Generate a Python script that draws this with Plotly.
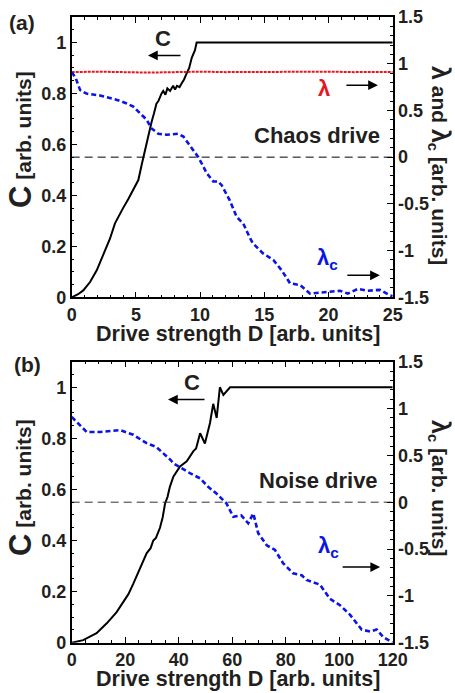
import plotly.graph_objects as go

# ---------------- data ----------------
# Panel (a): chaos drive
a_D_C = [0, 0.5, 0.9, 1.43, 1.95, 2.46, 2.98, 3.37, 3.76, 4.0, 4.4, 4.8, 5.19, 5.45, 5.58, 5.8, 5.97, 6.23,
         6.4, 6.6, 6.75, 6.88, 7.0, 7.13, 7.3, 7.45, 7.66, 7.9, 8.05, 8.2, 8.4, 8.57, 8.75, 8.96, 9.15, 9.35, 9.6, 9.73, 25]
a_C = [0, 0.012, 0.027, 0.06, 0.106, 0.17, 0.23, 0.29, 0.33, 0.35, 0.385, 0.42, 0.46, 0.52, 0.55, 0.6, 0.64, 0.69,
       0.72, 0.76, 0.77, 0.79, 0.80, 0.81, 0.795, 0.82, 0.81, 0.83, 0.815, 0.83, 0.825, 0.84, 0.855, 0.88, 0.9, 0.94, 0.97, 1.0, 1.0]

a_D_lam = [0, 2, 4, 6, 8, 10, 12, 14, 16, 18, 20, 22, 25]
a_lam = [0.91, 0.915, 0.91, 0.905, 0.91, 0.915, 0.91, 0.912, 0.915, 0.91, 0.915, 0.91, 0.912]

a_D_lc = [0, 0.3, 0.65, 1.15, 2.2, 3.0, 3.6, 4.28, 4.8, 5.32, 5.84, 6.2, 6.75, 7.4, 8.3, 8.7, 9.35, 9.86, 10.25, 10.5,
          11.03, 11.4, 11.68, 12.3, 12.85, 13.36, 13.9, 14.1, 14.9, 15.7, 16.35, 17.0, 17.8, 18.56, 19.3, 20.1, 20.9,
          21.5, 22.3, 23.0, 24.0, 24.8, 25]
a_lc = [0.91, 0.85, 0.72, 0.68, 0.66, 0.63, 0.61, 0.575, 0.54, 0.47, 0.40, 0.31, 0.25, 0.24, 0.25, 0.22, 0.09, 0.0, -0.10, -0.17,
        -0.26, -0.26, -0.30, -0.46, -0.64, -0.71, -0.87, -0.92, -1.03, -1.10, -1.21, -1.35, -1.37, -1.46, -1.45, -1.44, -1.43,
        -1.46, -1.41, -1.43, -1.42, -1.48, -1.49]

# Panel (b): noise drive
b_D_C = [0, 4.3, 9.3, 13.1, 16.8, 21.2, 23, 25.5, 28, 29.5, 30.5, 31.5, 33, 34.0, 34.9, 35.8, 36.7, 38, 40.5, 43, 43.6,
         45.5, 46.5, 48, 49.8, 51.7, 52.9, 54.2, 55.4, 56.7, 59.2, 120]
b_C = [0, 0.01, 0.037, 0.076, 0.12, 0.19, 0.23, 0.29, 0.35, 0.37, 0.40, 0.41, 0.45, 0.49, 0.545, 0.57, 0.61, 0.65, 0.69, 0.71, 0.72,
       0.75, 0.76, 0.82, 0.78, 0.86, 0.935, 0.88, 1.0, 0.97, 1.0, 1.0]

b_D_lc = [0, 5.6, 10.6, 18, 23, 28, 31.6, 35.5, 37, 38, 41, 44.2, 48, 51, 54, 57.8, 60.4, 63.4, 66, 67.9, 69.7, 72.9, 76,
          79, 82.8, 86, 87.8, 92.8, 96.5, 100.3, 104, 108.4, 111.5, 114, 116.5, 119.6, 120]
b_lc = [0.91, 0.75, 0.75, 0.77, 0.72, 0.63, 0.59, 0.49, 0.45, 0.415, 0.36, 0.31, 0.255, 0.165, 0.095, -0.01, -0.155, -0.14,
        -0.225, -0.12, -0.33, -0.46, -0.51, -0.65, -0.76, -0.78, -0.83, -0.88, -1.03, -1.10, -1.20, -1.36, -1.38, -1.36,
        -1.44, -1.5, -1.5]

c_ticks = [0, 0.2, 0.4, 0.6, 0.8, 1.0]
c_ticktext = ["0", "0.2", "0.4", "0.6", "0.8", "1"]
l_ticks = [-1.5, -1, -0.5, 0, 0.5, 1, 1.5]
l_ticktext = ["-1.5", "-1", "-0.5", "0", "0.5", "1", "1.5"]

# ---------------- figure ----------------
W, H = 455, 693
FONT = "Liberation Sans"
TXT = "#231f20"
BLUE = "#0a14e6"
RED = "#e8141e"

def px2x(px):
    return px / W

def px2y(py):
    return 1 - py / H

fig = go.Figure()

# panel (a)
fig.add_trace(go.Scatter(x=[0, 25], y=[0, 0], xaxis="x", yaxis="y2", mode="lines",
                         line=dict(color="black", width=1, dash="8px,5px"), showlegend=False))
fig.add_trace(go.Scatter(x=a_D_lam, y=a_lam, xaxis="x", yaxis="y2", mode="lines",
                         line=dict(color=RED, width=2, dash="3px,1px"), showlegend=False))
fig.add_trace(go.Scatter(x=a_D_lc, y=a_lc, xaxis="x", yaxis="y2", mode="lines",
                         line=dict(color=BLUE, width=2.6, dash="5px,3px"), showlegend=False))
fig.add_trace(go.Scatter(x=a_D_C, y=a_C, xaxis="x", yaxis="y", mode="lines",
                         line=dict(color="black", width=2), showlegend=False))

# panel (b)
fig.add_trace(go.Scatter(x=[0, 120], y=[0, 0], xaxis="x2", yaxis="y4", mode="lines",
                         line=dict(color="#333", width=1, dash="8px,5px"), showlegend=False))
fig.add_trace(go.Scatter(x=b_D_lc, y=b_lc, xaxis="x2", yaxis="y4", mode="lines",
                         line=dict(color=BLUE, width=2.6, dash="5px,3px"), showlegend=False))
fig.add_trace(go.Scatter(x=b_D_C, y=b_C, xaxis="x2", yaxis="y3", mode="lines",
                         line=dict(color="black", width=2), showlegend=False))

xdom = [px2x(71.7), px2x(392.7)]
ydom_a = [px2y(297.3), px2y(17)]
ydom_b = [px2y(642.7), px2y(361.7)]

tickfont = dict(family=FONT, size=18, color=TXT, weight="bold")

def xaxis(rng, dtick, minor, anchor):
    return dict(domain=xdom, range=rng, anchor=anchor, dtick=dtick, tick0=0, automargin=False,
                ticks="inside", ticklen=6, tickwidth=1, tickcolor="black",
                minor=dict(ticks="inside", dtick=minor, ticklen=3, tickcolor="black"),
                showline=True, linecolor="black", linewidth=1.5, mirror="ticks",
                showgrid=False, zeroline=False, tickfont=tickfont)

def yleft(dom, anchor):
    return dict(domain=dom, range=[0, 1.1], anchor=anchor, tickvals=c_ticks, ticktext=c_ticktext,
                automargin=False,
                ticks="inside", ticklen=6, tickcolor="black",
                minor=dict(ticks="inside", dtick=0.05, tick0=0, ticklen=3, tickcolor="black"),
                showline=True, linecolor="black", linewidth=1.5, showgrid=False, zeroline=False,
                tickfont=tickfont)

def yright(overlay, anchor):
    return dict(range=[-1.5, 1.5], overlaying=overlay, side="right", anchor=anchor,
                tickvals=l_ticks, ticktext=l_ticktext, automargin=False,
                ticks="inside", ticklen=6, tickcolor="black",
                minor=dict(ticks="inside", dtick=0.1, tick0=0, ticklen=3, tickcolor="black"),
                showline=True, linecolor="black", linewidth=1.5, showgrid=False, zeroline=False,
                tickfont=tickfont)

fig.update_layout(
    width=W, height=H, margin=dict(l=0, r=0, t=0, b=0),
    paper_bgcolor="white", plot_bgcolor="white",
    xaxis=xaxis([0, 25], 5, 1, "y"),
    yaxis=yleft(ydom_a, "x"),
    yaxis2=yright("y", "x"),
    xaxis2=xaxis([0, 120], 20, 5, "y3"),
    yaxis3=yleft(ydom_b, "x2"),
    yaxis4=yright("y3", "x2"),
)

ann = []
def text(x, y, s, size=20, color=TXT, xanchor="center", angle=0, xref="paper", yref="paper"):
    ann.append(dict(x=x, y=y, xref=xref, yref=yref, text=s, showarrow=False, xanchor=xanchor,
                    yanchor="middle", textangle=angle,
                    font=dict(family=FONT, size=size, color=color, weight="bold")))

def arrow(x, y, ax, xref, yref):
    ann.append(dict(x=x, y=y, xref=xref, yref=yref, ax=ax, ay=0, axref="pixel", ayref="pixel",
                    text="", showarrow=True, arrowhead=2, arrowsize=1.3, arrowwidth=1.5,
                    arrowcolor="black"))

# panel labels
text(px2x(22), px2y(22), "(a)", size=21)
text(px2x(27), px2y(364), "(b)", size=21)

# axis titles
text(px2x(238), px2y(334), "Drive strength D [arb. units]", size=21.5)
text(px2x(238), px2y(679), "Drive strength D [arb. units]", size=21.5)
text(px2x(21), px2y(140), "<span style='font-size:31px'>C</span> [arb. units]", size=21, angle=-90)
text(px2x(21), px2y(488), "<span style='font-size:31px'>C</span> [arb. units]", size=21, angle=-90)
text(px2x(440), px2y(165), "<span style='font-size:25px'>λ</span> and <span style='font-size:25px'>λ</span><sub>c</sub> [arb. units]",
     size=21, angle=90)
text(px2x(440), px2y(488), "<span style='font-size:25px'>λ</span><sub>c</sub> [arb. units]", size=21, angle=90)

# panel (a) annotations
text(7.1, 1.016, "C", size=22, xref="x", yref="y")
arrow(5.94, 0.949, 34, "x", "y")
text(19.65, 0.73, "λ", size=22, color=RED, xref="x", yref="y2")
arrow(23.85, 0.77, -33, "x", "y2")
text(24.17, 0.236, "Chaos drive", size=22, xanchor="right", xref="x", yref="y2")
text(19.9, -1.09, "λ<sub>c</sub>", size=22, color=BLUE, xref="x", yref="y2")
arrow(24.0, -1.264, -34, "x", "y2")

# panel (b) annotations
text(45, 1.018, "C", size=22, xref="x2", yref="y3")
arrow(36, 0.952, 38, "x2", "y3")
text(115.3, 0.237, "Noise drive", size=22, xanchor="right", xref="x2", yref="y4")
text(96, -0.48, "λ<sub>c</sub>", size=22, color=BLUE, xref="x2", yref="y4")
arrow(115.3, -0.692, -39, "x2", "y4")

fig.update_layout(annotations=ann)
fig.write_html("out.html", config={"displayModeBar": False},
               post_script="document.body.style.margin='0';document.body.style.padding='0';"
                           "document.documentElement.style.overflow='hidden';")
